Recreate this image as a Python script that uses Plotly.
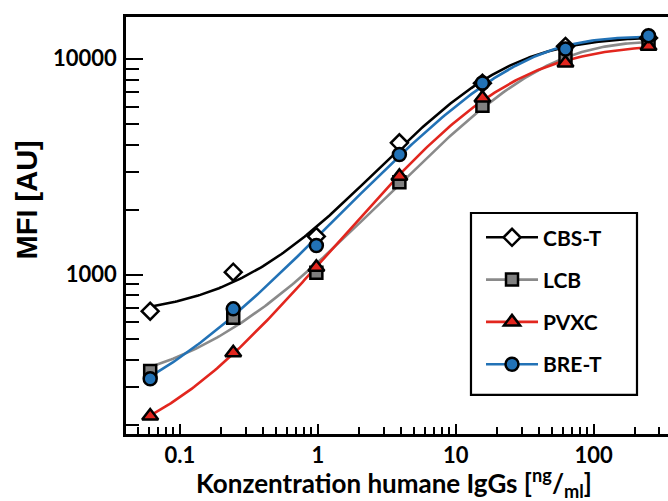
import numpy as np
import plotly.graph_objects as go

# IgG concentration series (ng/ml), 1:4 dilution steps
conc = [0.061, 0.244, 0.977, 3.906, 15.625, 62.5, 250]

# Median fluorescence intensity per coating buffer
cbs_t = [676, 1025, 1500, 4074, 7700, 11400, 12470]
lcb = [357, 630, 1018, 2675, 6050, 9900, 12030]
pvxc = [221, 434, 1081, 2851, 6575, 9550, 11400]
bre_t = [329, 693, 1362, 3594, 7715, 11090, 12780]

series_names = ["CBS-T", "LCB", "PVXC", "BRE-T"]

x_tickvals = [0.1, 1, 10, 100]
x_ticktext = ["0.1", "1", "10", "100"]
y_tickvals = [1000, 10000]
y_ticktext = ["1000", "10000"]

x_minor = [0.05, 0.06, 0.07, 0.08, 0.09,
           0.2, 0.3, 0.4, 0.5, 0.6, 0.7, 0.8, 0.9,
           2, 3, 4, 5, 6, 7, 8, 9,
           20, 30, 40, 50, 60, 70, 80, 90,
           200, 300]
y_minor = [200, 300, 400, 500, 600, 700, 800, 900,
           2000, 3000, 4000, 5000, 6000, 7000, 8000, 9000]

styles = [
    dict(line="#000000", fill="#ffffff", symbol="diamond", size=13),
    dict(line="#8a8a8a", fill="#808080", symbol="square", size=12),
    dict(line="#e2261e", fill="#e2261e", symbol="triangle-up", size=14),
    dict(line="#2272b6", fill="#2272b6", symbol="circle", size=13),
]


def logistic5(p, lx):
    """Five-parameter logistic, returned as log10 of the signal."""
    la, ld, lc, b, lg = p
    a, d, g = 10.0 ** la, 10.0 ** ld, 10.0 ** lg
    return np.log10(d + (a - d) / (1.0 + 10.0 ** (b * (lx - lc))) ** g)


def levenberg_marquardt(model, p, lx, ly, iters=800):
    lam = 1e-2

    def sse(q):
        with np.errstate(all="ignore"):
            r = ly - model(q, lx)
        return float(r @ r) if np.all(np.isfinite(r)) else np.inf

    cost = sse(p)
    for _ in range(iters):
        with np.errstate(all="ignore"):
            r = ly - model(p, lx)
            J = np.empty((lx.size, p.size))
            for k in range(p.size):
                dp = np.zeros_like(p)
                dp[k] = 1e-6
                J[:, k] = (model(p + dp, lx) - model(p - dp, lx)) / 2e-6
        if not np.all(np.isfinite(J)):
            break
        A = J.T @ J
        g = J.T @ r
        try:
            step = np.linalg.solve(A + lam * np.diag(np.diag(A) + 1e-9), g)
        except np.linalg.LinAlgError:
            lam *= 4.0
            continue
        trial = p + step
        c_new = sse(trial)
        if c_new < cost:
            p, cost = trial, c_new
            lam = max(lam / 3.0, 1e-9)
            if np.max(np.abs(step)) < 1e-10:
                break
        else:
            lam *= 4.0
            if lam > 1e12:
                break
    return p


def fit_curve(x, y, n=240):
    """4PL fit on log10 signal, refined to an asymmetric 5PL."""
    lx, ly = np.log10(x), np.log10(y)
    p = np.array([ly.min() - 0.15, ly.max() + 0.05, lx.mean(), 1.0, 0.0])
    fixed_g = lambda q, t: logistic5(np.append(q, 0.0), t)
    p4 = levenberg_marquardt(fixed_g, p[:4], lx, ly)
    p5 = levenberg_marquardt(logistic5, np.append(p4, 0.0), lx, ly)
    gx = np.linspace(lx.min(), lx.max(), n)
    return 10 ** gx, 10 ** logistic5(p5, gx)


fig = go.Figure()
all_series = [cbs_t, lcb, pvxc, bre_t]

# fitted curves first, measured points above them
for name, vals, st in zip(series_names, all_series, styles):
    fx, fy = fit_curve(np.array(conc), np.array(vals, dtype=float))
    fig.add_trace(go.Scatter(
        x=fx, y=fy, mode="lines", legendgroup=name, showlegend=False,
        line=dict(color=st["line"], width=2.6), hoverinfo="skip",
    ))

for name, vals, st in zip(series_names, all_series, styles):
    fig.add_trace(go.Scatter(
        x=conc, y=vals, name=name, legendgroup=name, mode="markers",
        showlegend=False,
        marker=dict(symbol=st["symbol"], size=st["size"], color=st["fill"],
                    line=dict(color="#000000", width=2.5)),
    ))

# legend keys combining line and marker
for name, st in zip(series_names, styles):
    fig.add_trace(go.Scatter(
        x=[None], y=[None], name=name, legendgroup=name,
        mode="lines+markers",
        line=dict(color=st["line"], width=2.6),
        marker=dict(symbol=st["symbol"], size=st["size"], color=st["fill"],
                    line=dict(color="#000000", width=2.5)),
    ))

tick_font = dict(family="Lato", size=22, color="#000000", weight="bold")

fig.update_xaxes(
    type="log", range=[-1.39, 2.539],
    showline=True, linecolor="#000000", linewidth=2.5, mirror=True,
    showgrid=False, zeroline=False,
    ticks="inside", ticklen=10, tickwidth=2, tickcolor="#000000",
    tickmode="array", tickvals=x_tickvals, ticktext=x_ticktext,
    tickfont=tick_font, ticklabelstandoff=0,
    minor=dict(ticks="inside", ticklen=7, tickwidth=2, tickcolor="#000000",
               tickmode="array", tickvals=x_minor, showgrid=False),
)
fig.update_yaxes(
    type="log", range=[2.261, 4.193],
    showline=True, linecolor="#000000", linewidth=2.5, mirror=False,
    showgrid=False, zeroline=False,
    ticks="inside", ticklen=17, tickwidth=2, tickcolor="#000000",
    tickmode="array", tickvals=y_tickvals, ticktext=y_ticktext,
    tickfont=tick_font, ticklabelstandoff=2,
    minor=dict(ticks="inside", ticklen=13, tickwidth=2, tickcolor="#000000",
               tickmode="array", tickvals=y_minor, showgrid=False),
)

fig.update_layout(
    width=668, height=501,
    margin=dict(l=126, r=0, t=17, b=67, pad=0),
    paper_bgcolor="#ffffff", plot_bgcolor="#ffffff",
    showlegend=True,
    legend=dict(
        x=0.655, y=0.52, xanchor="left", yanchor="top",
        bgcolor="rgba(0,0,0,0)", borderwidth=0,
        font=dict(family="Lato", size=21, color="#000000", weight="bold"),
        itemwidth=52, tracegroupgap=12,
    ),
    shapes=[dict(
        type="rect", xref="paper", yref="paper",
        x0=0.6365, x1=0.9428, y0=0.094, y1=0.530,
        line=dict(color="#000000", width=2.2), fillcolor="#ffffff", layer="below",
    )],
    annotations=[
        dict(text="Konzentration humane IgGs [<sup>ng</sup>/<sub>ml</sub>]",
             xref="paper", yref="paper", x=0.495, y=-0.117,
             xanchor="center", yanchor="middle", showarrow=False,
             font=dict(family="Lato", size=26, color="#000000", weight="bold")),
        dict(text="MFI [AU]", xref="paper", yref="paper",
             x=-0.183, y=0.562, xanchor="center", yanchor="middle",
             textangle=-90, showarrow=False,
             font=dict(family="Liberation Sans", size=29, color="#000000",
                       weight="bold")),
    ],
)

fig.write_html("out.html")
